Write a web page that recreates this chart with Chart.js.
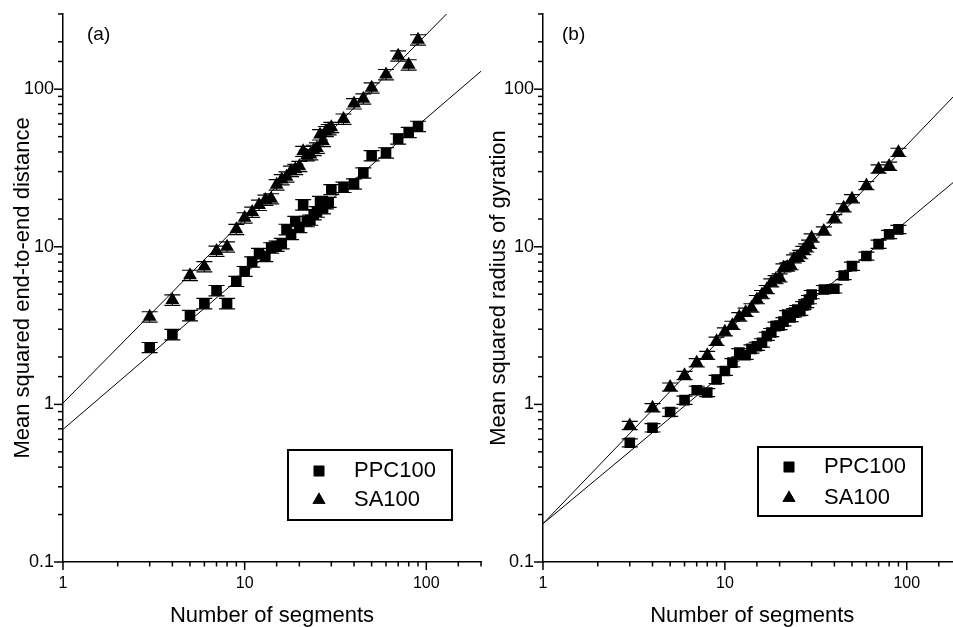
<!DOCTYPE html>
<html><head><meta charset="utf-8">
<script src="https://cdn.jsdelivr.net/npm/chart.js@4.4.0/dist/chart.umd.min.js"></script>
<style>
html,body{margin:0;padding:0;width:953px;height:627px;overflow:hidden;background:#fff;}
#ca{position:absolute;left:0;top:0;}
#cb{position:absolute;left:476px;top:0;}
</style></head><body>
<canvas id="ca" width="490" height="627"></canvas>
<canvas id="cb" width="490" height="627"></canvas>
<script>
// ---------- data ----------
const segments = [3,4,5,6,7,8,9,10,11,12,13,14,15,16,17,18,19,20,21,22,23,24,25,26,27,28,29,30,35,40,45,50,60,70,80,90];

// (a) mean squared end-to-end distance
const ppcEndToEnd = [2.3,2.78,3.67,4.37,5.28,4.37,6.05,7.0,8.03,9.07,8.7,9.86,10.1,10.5,12.9,12.0,14.5,13.3,18.5,14.5,14.8,16.0,16.7,19.4,17.5,18.8,19.2,23.1,23.9,25.1,29.5,37.9,39.5,48.4,53.3,58.2];
const ppcEndToEndErr = [0.17,0.21,0.28,0.33,0.4,0.33,0.45,0.5,0.6,0.7,0.65,0.75,0.75,0.8,1.0,0.9,1.1,1.0,1.4,1.1,1.1,1.2,1.3,1.5,1.3,1.4,1.4,1.7,1.8,1.9,2.2,2.8,3.0,3.6,4.0,4.4];
const saEndToEnd = [3.6,4.6,6.6,7.5,9.4,10.0,12.9,15.3,16.6,18.4,19.8,20.2,24.8,26.7,27.8,30.2,31.0,32.4,40.4,38.0,38.5,41.0,42.4,51.5,46.7,54.0,55.5,57.3,64.7,81,87,102,124,163,143,206];
const saEndToEndErr = [0.27,0.35,0.5,0.56,0.7,0.75,0.97,1.15,1.25,1.4,1.5,1.5,1.9,2.0,2.1,2.3,2.3,2.4,3.0,2.9,2.9,3.1,3.2,3.9,3.5,4.0,4.2,4.3,4.9,6.1,6.5,7.7,9.3,12.2,10.7,15.5];

// (b) mean squared radius of gyration
const ppcGyration = [0.571,0.711,0.894,1.065,1.23,1.19,1.44,1.63,1.84,2.13,2.05,2.25,2.34,2.46,2.71,2.86,3.14,3.17,3.35,3.72,3.56,3.82,4.0,3.9,4.24,4.37,4.63,4.98,5.36,5.42,6.58,7.54,8.74,10.4,12.0,12.9];
const ppcGyrationErr = [0.034,0.043,0.054,0.064,0.074,0.071,0.086,0.1,0.11,0.13,0.12,0.135,0.14,0.15,0.16,0.17,0.19,0.19,0.2,0.22,0.21,0.23,0.24,0.23,0.25,0.26,0.28,0.3,0.32,0.33,0.39,0.45,0.52,0.62,0.72,0.77];
const saGyration = [0.736,0.953,1.29,1.53,1.84,2.05,2.52,2.89,3.18,3.6,3.85,4.1,4.63,4.98,5.36,5.91,6.2,6.36,7.36,7.45,7.61,8.39,8.6,8.94,9.5,9.86,10.4,11.4,12.6,15.1,17.7,20.2,24.5,31.2,32.5,39.8];
const saGyrationErr = [0.044,0.057,0.077,0.092,0.11,0.12,0.15,0.17,0.19,0.22,0.23,0.25,0.28,0.3,0.32,0.35,0.37,0.38,0.44,0.45,0.46,0.5,0.52,0.54,0.57,0.59,0.62,0.68,0.76,0.91,1.06,1.21,1.47,1.87,1.95,2.39];

// fitted power-law lines (end points)
const fitX = [1, 200];
const fitPpcEndToEnd = [0.694, 130];
const fitSaEndToEnd = [1.02, 500];
const fitPpcGyration = [0.175, 28.3];
const fitSaGyration = [0.175, 101.5];

const seriesNames = ['PPC100', 'SA100'];
const xTickLabels = [1, 10, 100];
const yTickLabels = [0.1, 1, 10, 100];
const xTitle = 'Number of segments';
const yTitles = ['Mean squared end-to-end distance', 'Mean squared radius of gyration'];
const panelLabels = ['(a)', '(b)'];

// ---------- helpers ----------
const FONT = "'Liberation Sans', Arial, sans-serif";
const pts = (xs, ys) => xs.map((x, i) => ({x: x, y: ys[i]}));
const isMajor = v => Math.abs(Math.log10(v) - Math.round(Math.log10(v))) < 1e-9;

const axisTicks = {
  id: 'axisTicks',
  afterDraw(chart) {
    const ctx = chart.ctx, xs = chart.scales.x, ys = chart.scales.y, a = chart.chartArea;
    ctx.save(); ctx.strokeStyle = '#000'; ctx.lineWidth = 1.5;
    xs.ticks.forEach(t => {
      const px = xs.getPixelForValue(t.value);
      const L = isMajor(t.value) ? 8 : 4.5;
      ctx.beginPath(); ctx.moveTo(px, a.bottom); ctx.lineTo(px, a.bottom + L); ctx.stroke();
    });
    ys.ticks.forEach(t => {
      const py = ys.getPixelForValue(t.value);
      const L = isMajor(t.value) ? 9 : 5;
      ctx.beginPath(); ctx.moveTo(a.left, py); ctx.lineTo(a.left - L, py); ctx.stroke();
    });
    ctx.restore();
  }
};

const errorBars = {
  id: 'errorBars',
  afterDatasetsDraw(chart) {
    const ctx = chart.ctx, xs = chart.scales.x, ys = chart.scales.y;
    ctx.save(); ctx.strokeStyle = '#000'; ctx.lineWidth = 1.2;
    chart.data.datasets.forEach(ds => {
      if (!ds.errors) return;
      ds.data.forEach((p, j) => {
        const e = ds.errors[j];
        const px = xs.getPixelForValue(p.x);
        const y1 = ys.getPixelForValue(p.y + e), y2 = ys.getPixelForValue(p.y - e);
        ctx.beginPath();
        ctx.moveTo(px, y1); ctx.lineTo(px, y2);
        ctx.moveTo(px - 8, y1); ctx.lineTo(px + 8, y1);
        ctx.moveTo(px - 8, y2); ctx.lineTo(px + 8, y2);
        ctx.stroke();
      });
    });
    ctx.restore();
  }
};

const boxLegend = {
  id: 'boxLegend',
  afterDraw(chart, args, o) {
    const ctx = chart.ctx;
    ctx.save();
    ctx.strokeStyle = '#000'; ctx.lineWidth = 2;
    ctx.strokeRect(o.box[0], o.box[1], o.box[2] - o.box[0], o.box[3] - o.box[1]);
    ctx.fillStyle = '#000';
    ctx.font = '22px ' + FONT; ctx.textBaseline = 'middle'; ctx.textAlign = 'left';
    const styles = ['rect', 'triangle'];
    seriesNames.forEach((name, i) => {
      Chart.helpers.drawPoint(ctx, {pointStyle: styles[i], radius: 7.5, borderWidth: 0, rotation: 0}, o.markerX, o.rows[i]);
      ctx.fillStyle = '#000';
      ctx.fill();
      ctx.fillText(name, o.textX, o.rows[i]);
    });
    ctx.font = '19px ' + FONT;
    ctx.fillText(o.label, o.labelX, o.labelY);
    ctx.restore();
  }
};

function makeChart(id, ppc, ppcErr, sa, saErr, fitP, fitS, yTitle, yAxisW, padRight, legend) {
  return new Chart(document.getElementById(id), {
    type: 'scatter',
    data: {
      datasets: [
        {label: seriesNames[0], data: pts(segments, ppc), errors: ppcErr, pointStyle: 'rect', pointRadius: 7.5,
         backgroundColor: '#000', borderColor: '#000', borderWidth: 0},
        {label: seriesNames[1], data: pts(segments, sa), errors: saErr, pointStyle: 'triangle', pointRadius: 8,
         backgroundColor: '#000', borderColor: '#000', borderWidth: 0},
        {label: 'fitP', data: pts(fitX, fitP), showLine: true, pointRadius: 0, borderColor: '#000', borderWidth: 1},
        {label: 'fitS', data: pts(fitX, fitS), showLine: true, pointRadius: 0, borderColor: '#000', borderWidth: 1}
      ]
    },
    options: {
      responsive: false, animation: false,
      layout: {autoPadding: false, padding: {left: 0, right: padRight, top: 14, bottom: 0}},
      plugins: {legend: {display: false}, tooltip: {enabled: false}, boxLegend: legend},
      scales: {
        x: {
          type: 'logarithmic', min: 1, max: 200,
          grid: {display: false, drawTicks: false},
          border: {display: true, color: '#000', width: 1.5},
          ticks: {autoSkip: false, maxRotation: 0, padding: 12, color: '#000', font: {family: FONT, size: 16},
                  callback: v => xTickLabels.includes(v) ? String(v) : ''},
          title: {display: true, text: xTitle, color: '#000', font: {family: FONT, size: 22, lineHeight: 1}, padding: {top: 0, bottom: 0}},
          afterFit: s => { s.height = 65; s.paddingLeft = 0; s.paddingRight = 0; s.paddingTop = 0; s.paddingBottom = 0; }
        },
        y: {
          type: 'logarithmic', min: 0.1, max: 300,
          grid: {display: false, drawTicks: false},
          border: {display: true, color: '#000', width: 1.5},
          ticks: {autoSkip: false, padding: 9, color: '#000', font: {family: FONT, size: 18},
                  callback: v => yTickLabels.includes(v) ? String(v) : ''},
          title: {display: true, text: yTitle, color: '#000', font: {family: FONT, size: 22, lineHeight: 1}, padding: {top: 12, bottom: 0}},
          afterFit: s => { s.width = yAxisW; s.paddingLeft = 0; s.paddingRight = 0; s.paddingTop = 0; s.paddingBottom = 0; }
        }
      }
    },
    plugins: [errorBars, axisTicks, boxLegend]
  });
}

makeChart('ca', ppcEndToEnd, ppcEndToEndErr, saEndToEnd, saEndToEndErr, fitPpcEndToEnd, fitSaEndToEnd, yTitles[0], 63, 9,
  {box: [288, 450, 452, 520], markerX: 319, rows: [471, 500], textX: 354, label: panelLabels[0], labelX: 87, labelY: 35});
makeChart('cb', ppcGyration, ppcGyrationErr, saGyration, saGyrationErr, fitPpcGyration, fitSaGyration, yTitles[1], 67, 4.5,
  {box: [282, 447, 446, 516], markerX: 313, rows: [467, 498], textX: 348, label: panelLabels[1], labelX: 86, labelY: 35});
</script>
</body></html>
